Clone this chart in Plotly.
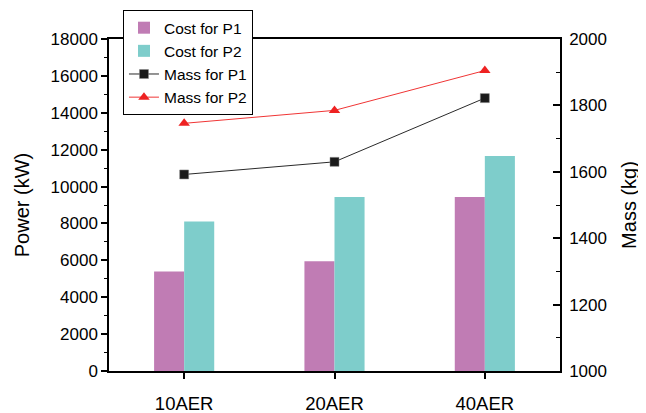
import plotly.graph_objects as go

categories = ["10AER", "20AER", "40AER"]
cost_p1 = [5400, 5950, 9430]
cost_p2 = [8100, 9430, 11650]
mass_p1 = [1592, 1630, 1822]
mass_p2 = [1746, 1785, 1905]

FONT = "Liberation Sans, Arial, sans-serif"
PINK = "#C07CB4"
CYAN = "#7ECDCB"

fig = go.Figure()
fig.add_trace(go.Bar(x=categories, y=cost_p1, name="Cost for P1",
                     marker=dict(color=PINK, line=dict(width=0))))
fig.add_trace(go.Bar(x=categories, y=cost_p2, name="Cost for P2",
                     marker=dict(color=CYAN, line=dict(width=0))))
fig.add_trace(go.Scatter(x=categories, y=mass_p1, name="Mass for P1", yaxis="y2",
                         mode="lines+markers",
                         line=dict(color="#2a2a2a", width=1),
                         marker=dict(symbol="square", size=9, color="#1a1a1a",
                                     line=dict(color="#888888", width=0.5))))
fig.add_trace(go.Scatter(x=categories, y=mass_p2, name="Mass for P2", yaxis="y2",
                         mode="lines+markers",
                         line=dict(color="#F03535", width=1),
                         marker=dict(symbol="triangle-up", size=10, color="#EE2222",
                                     line=dict(width=0))))

# page body has an 8px default margin; margins compensate for it
fig.update_layout(
    width=646, height=413,
    margin=dict(l=101, r=94, t=31, b=50, autoexpand=False),
    paper_bgcolor="white", plot_bgcolor="white",
    font=dict(family=FONT, color="black", size=16),
    barmode="group", bargap=0.6, bargroupgap=0,
    showlegend=True,
    legend=dict(x=0.031, y=1.087, xanchor="left", yanchor="top",
                bgcolor="white", bordercolor="black", borderwidth=1,
                font=dict(size=15.5, family=FONT), tracegroupgap=0,
                itemwidth=30),
    xaxis=dict(type="category", range=[-0.5, 2.5],
               showline=True, linecolor="black", linewidth=1.5, mirror=True,
               ticks="outside", ticklen=6, tickcolor="black", tickwidth=1.5,
               tickfont=dict(size=18.5), ticklabelstandoff=9,
               showgrid=False, zeroline=False, automargin=False),
    yaxis=dict(range=[0, 18000], dtick=2000, tickformat="d",
               title=dict(text="Power (kW)", font=dict(size=20), standoff=16),
               showline=True, linecolor="black", linewidth=1.5,
               ticks="outside", ticklen=6, tickcolor="black", tickwidth=1.5,
               minor=dict(dtick=1000, ticks="outside", ticklen=3, tickcolor="black", tickwidth=1),
               tickfont=dict(size=17), automargin=False,
               showgrid=False, zeroline=False),
    yaxis2=dict(range=[1000, 2000], dtick=200, tickformat="d", overlaying="y", side="right",
                title=dict(text="Mass (kg)", font=dict(size=20), standoff=16),
                showline=True, linecolor="black", linewidth=1.5,
                ticks="inside", ticklen=7, tickcolor="black", tickwidth=1.5,
                minor=dict(dtick=100, ticks="inside", ticklen=4, tickcolor="black", tickwidth=1),
                tickfont=dict(size=17), ticklabelstandoff=4, automargin=False,
                showgrid=False, zeroline=False),
)

fig.write_html("out.html")
